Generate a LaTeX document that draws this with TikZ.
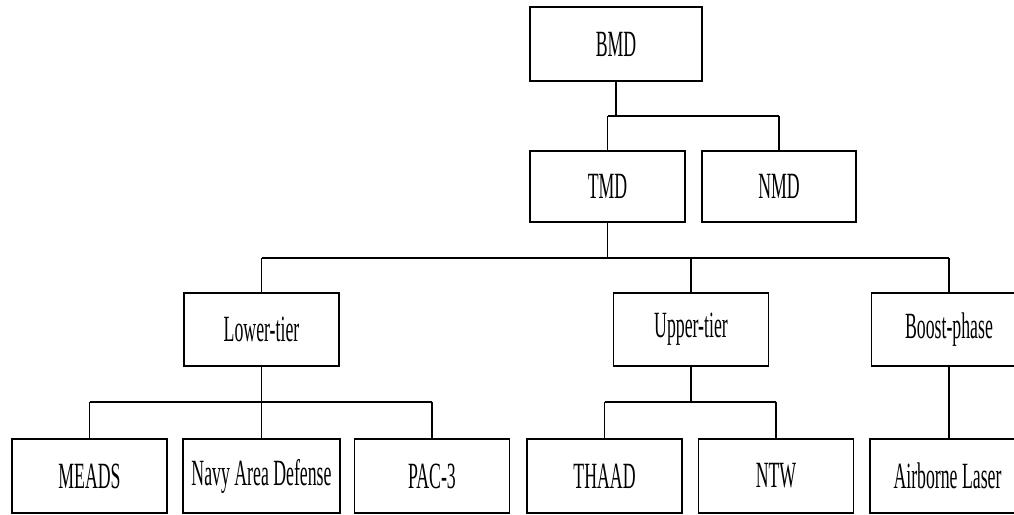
\documentclass[tikz,border=0pt]{standalone}
\usepackage{graphicx}
\usepackage{fontspec}
\setmainfont{Liberation Serif}
\newcommand{\sqz}[1]{\scalebox{0.48}[1]{#1}}
\begin{document}
\begin{tikzpicture}[x=1pt,y=-1pt,
  box/.style={draw, line width=1.3pt, minimum width=155pt, minimum height=73pt, inner sep=0pt,
              font=\fontsize{37}{40}\selectfont},
  conn/.style={line width=1.9pt},
  bus/.style={line width=2.5pt}]
\useasboundingbox (0,0) rectangle (1014,514);
\clip (0,0) rectangle (1014,514);
% nodes
\node[box, minimum width=172pt, minimum height=74pt] (BMD) at (616,44) {\sqz{BMD}};
\node[box, minimum height=71pt] (TMD) at (607.5,186.5) {\sqz{TMD}};
\node[box, minimum width=154pt, minimum height=71pt] (NMD) at (779,186.5) {\sqz{NMD}};
\node[box] (Lower) at (261.5,329.5) {\sqz{Lower-tier}};
\node[box] (Upper) at (691,329.5) {\sqz{Upper-tier}};
\node[box] (Boost) at (949,329.5) {\sqz{Boost-phase}};
\node[box, minimum height=74pt] (MEADS) at (89.5,476) {\sqz{MEADS}};
\node[box, minimum width=157pt, minimum height=74pt] (Navy) at (261.5,476) {\sqz{Navy Area Defense}};
\node[box, minimum height=74pt] (PAC) at (432,476) {\sqz{PAC-3}};
\node[box, minimum height=74pt] (THAAD) at (604.5,476) {\sqz{THAAD}};
\node[box, minimum height=74pt] (NTW) at (776,476) {\sqz{NTW}};
\node[box, minimum height=74pt] (Air) at (947.5,476) {\sqz{Airborne Laser}};
% bus levels
\coordinate (b1) at (0,116);
\coordinate (b2) at (0,258);
\coordinate (b3) at (0,402);
% connectors
\draw[conn] (BMD.south) -- (BMD.south |- b1);
\draw[bus] (TMD.north |- b1) -- (NMD.north |- b1);
\draw[conn] (TMD.north |- b1) -- (TMD.north);
\draw[conn] (NMD.north |- b1) -- (NMD.north);

\draw[conn] (TMD.south) -- (TMD.south |- b2);
\draw[bus] (Lower.north |- b2) -- (Boost.north |- b2);
\draw[conn] (Lower.north |- b2) -- (Lower.north);
\draw[conn] (Upper.north |- b2) -- (Upper.north);
\draw[conn] (Boost.north |- b2) -- (Boost.north);

\draw[conn] (Lower.south) -- (Lower.south |- b3);
\draw[bus] (MEADS.north |- b3) -- (PAC.north |- b3);
\draw[conn] (MEADS.north |- b3) -- (MEADS.north);
\draw[conn] (Navy.north |- b3) -- (Navy.north);
\draw[conn] (PAC.north |- b3) -- (PAC.north);

\draw[conn] (Upper.south) -- (Upper.south |- b3);
\draw[bus] (THAAD.north |- b3) -- (NTW.north |- b3);
\draw[conn] (THAAD.north |- b3) -- (THAAD.north);
\draw[conn] (NTW.north |- b3) -- (NTW.north);

\draw[conn] (Boost.south) -- (Boost.south |- Air.north);
\end{tikzpicture}
\end{document}
